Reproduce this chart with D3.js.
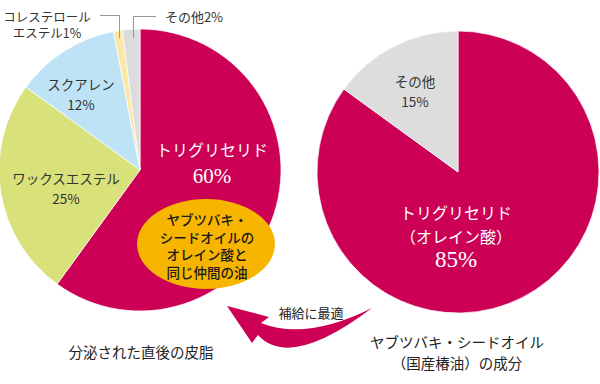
<!DOCTYPE html>
<html>
<head>
<meta charset="utf-8">
<script src="https://cdn.jsdelivr.net/npm/d3@7"></script>
<style>
  html, body { margin: 0; padding: 0; background: #fff; }
  svg { display: block; }
</style>
</head>
<body>
<div id="chart"></div>
<script>
// Data
const leftLabels = ["トリグリセリド", "ワックスエステル", "スクアレン", "コレステロールエステル", "その他"];
const leftValues = [60, 25, 12, 1, 2];
const rightLabels = ["トリグリセリド（オレイン酸）", "その他"];
const rightValues = [85, 15];

// Style / layout
const W = 600, H = 384;
const SANS = "'Noto Sans CJK JP', 'Noto Sans', sans-serif";
const SERIF = "'Liberation Serif', 'DejaVu Serif', serif";
const leftColors = ["#cc0055", "#d9e17b", "#bee3f6", "#fbe7a6", "#dcdcdc"];
const rightColors = ["#cc0055", "#dddddd"];
const R = 141;

const svg = d3.select("#chart").append("svg")
    .attr("width", W)
    .attr("height", H);

const pie = d3.pie().sort(null).value(d => d);
const arc = d3.arc().innerRadius(0).outerRadius(R);

function drawPie(cx, cy, values, colors) {
    const g = svg.append("g").attr("transform", `translate(${cx},${cy})`);
    g.selectAll("path")
        .data(pie(values))
        .join("path")
        .attr("d", arc)
        .attr("fill", (d, i) => colors[i])
        .attr("stroke", "#fff")
        .attr("stroke-width", 0.7);
    return g;
}

function label(g, x, y, lines, opts) {
    const t = g.append("text")
        .attr("x", x)
        .attr("y", y)
        .attr("text-anchor", "middle")
        .attr("fill", opts.color || "#333")
        .attr("font-family", opts.family || SANS)
        .attr("font-weight", opts.weight || 400)
        .attr("font-size", opts.size || 14);
    lines.forEach((l, i) => {
        t.append("tspan")
            .attr("x", x)
            .attr("dy", i === 0 ? 0 : (opts.lh || 20))
            .attr("font-family", l.family || null)
            .attr("font-size", l.size || null)
            .text(l.text);
    });
}

// Left pie
const left = drawPie(140, 170, leftValues, leftColors);

label(left, 72, -14, [{ text: leftLabels[0] }, { text: leftValues[0] + "%", family: SERIF, size: 21 }],
    { color: "#fff", size: 16, lh: 27 });
label(left, -74, 14, [{ text: leftLabels[1] }, { text: leftValues[1] + "%" }], { size: 13.5, lh: 20 });
label(left, -59, -80, [{ text: leftLabels[2] }, { text: leftValues[2] + "%" }], { size: 13.5, lh: 20 });

// small slice callouts
svg.append("path")
    .attr("d", "M100,15.5H119.5V38")
    .attr("fill", "none").attr("stroke", "#999").attr("stroke-width", 1);
svg.append("path")
    .attr("d", "M133.5,38V16.5H156")
    .attr("fill", "none").attr("stroke", "#999").attr("stroke-width", 1);
label(svg, 47, 22, [{ text: "コレステロール" }, { text: "エステル" + leftValues[3] + "%" }], { size: 12.5, lh: 16 });
label(svg, 194, 22, [{ text: leftLabels[4] + leftValues[4] + "%" }], { size: 13 });

// Orange callout ellipse
svg.append("ellipse")
    .attr("cx", 206).attr("cy", 244)
    .attr("rx", 69).attr("ry", 45)
    .attr("fill", "#f7b500");
label(svg, 207, 225, [
    { text: "ヤブツバキ・" }, { text: "シードオイルの" }, { text: "オレイン酸と" }, { text: "同じ仲間の油" }
], { color: "#1a1a1a", size: 13.5, weight: 500, lh: 17.5 });

// Right pie
const right = drawPie(458, 172, rightValues, rightColors);
label(right, -2, 47, [
    { text: "トリグリセリド" }, { text: "（オレイン酸）" }, { text: rightValues[0] + "%", family: SERIF, size: 23 }
], { color: "#fff", size: 16, lh: 24 });
label(right, -43, -85, [{ text: rightLabels[1] }, { text: rightValues[1] + "%" }], { size: 13.5, lh: 20 });

// Curved arrow
svg.append("path")
    .attr("d", "M372,308Q290,370 258,335L252,343L227,306L269,317L261,323Q306,341 372,308Z")
    .attr("fill", "#cc0055");
label(svg, 311, 318, [{ text: "補給に最適" }], { color: "#222", size: 13 });

// Captions
label(svg, 141, 358, [{ text: "分泌された直後の皮脂" }], { color: "#222", size: 14.5 });
label(svg, 457, 348, [{ text: "ヤブツバキ・シードオイル" }, { text: "（国産椿油）の成分" }],
    { color: "#222", size: 14.5, lh: 21 });
</script>
</body>
</html>
